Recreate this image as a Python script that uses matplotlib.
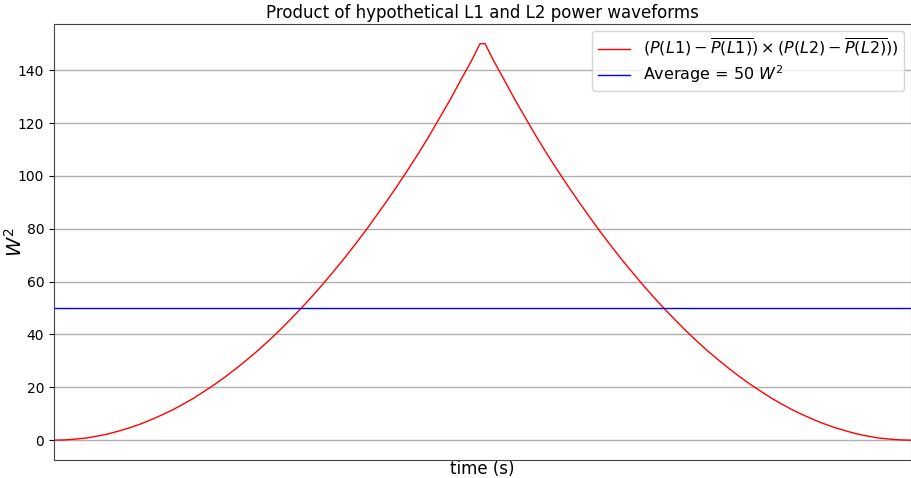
import matplotlib
matplotlib.use("Agg")
import matplotlib.pyplot as plt

# time (fraction of the window) and product values
time_s = [0.0, 0.0125, 0.025, 0.0375, 0.05, 0.0625, 0.075, 0.0875, 0.1, 0.1125,
          0.125, 0.1375, 0.15, 0.1625, 0.175, 0.1875, 0.2, 0.2125, 0.225, 0.2375,
          0.25, 0.2625, 0.275, 0.2875, 0.3, 0.3125, 0.325, 0.3375, 0.35, 0.3625,
          0.375, 0.3875, 0.4, 0.4125, 0.425, 0.4375, 0.45, 0.4625, 0.475, 0.4875,
          0.497, 0.503,
          0.5125, 0.525, 0.5375, 0.55, 0.5625, 0.575, 0.5875, 0.6, 0.6125, 0.625,
          0.6375, 0.65, 0.6625, 0.675, 0.6875, 0.7, 0.7125, 0.725, 0.7375, 0.75,
          0.7625, 0.775, 0.7875, 0.8, 0.8125, 0.825, 0.8375, 0.85, 0.8625, 0.875,
          0.8875, 0.9, 0.9125, 0.925, 0.9375, 0.95, 0.9625, 0.975, 0.9875, 1.0]
product_w2 = [0.0, 0.1, 0.4, 0.8, 1.5, 2.3, 3.4, 4.6, 6.0, 7.6,
              9.4, 11.3, 13.5, 15.8, 18.4, 21.1, 24.0, 27.1, 30.4, 33.8,
              37.5, 41.3, 45.4, 49.6, 54.0, 58.6, 63.4, 68.3, 73.5, 78.8,
              84.4, 90.1, 96.0, 102.1, 108.4, 115.0, 122.0, 129.0, 136.5, 143.8,
              150.0, 150.0,
              143.8, 136.5, 129.0, 122.0, 115.0, 108.4, 102.1, 96.0, 90.1, 84.4,
              78.8, 73.5, 68.3, 63.4, 58.6, 54.0, 49.6, 45.4, 41.3, 37.5,
              33.8, 30.4, 27.1, 24.0, 21.1, 18.4, 15.8, 13.5, 11.3, 9.4,
              7.6, 6.0, 4.6, 3.4, 2.3, 1.5, 0.8, 0.4, 0.1, 0.0]
average_w2 = 50
yticks = [0, 20, 40, 60, 80, 100, 120, 140]

fig = plt.figure(figsize=(9.12, 4.78), dpi=100)
ax = fig.add_axes([0.0592, 0.0377, 0.9398, 0.9123])

ax.plot(time_s, product_w2, color="red", lw=1,
        label=r"$(P(L1) - \overline{P(L1)}) \times (P(L2) - \overline{P(L2)}))$")
ax.axhline(average_w2, color="blue", lw=1, label=r"Average = 50 $W^2$")

ax.set_xlim(min(time_s), max(time_s))
ax.set_ylim(-7.5, 157.5)
ax.set_xticks([])
ax.set_yticks(yticks)
ax.tick_params(axis="y", labelsize=10)
ax.yaxis.grid(True, color="#b0b0b0", lw=1)
ax.set_axisbelow(True)
for s in ax.spines.values():
    s.set_color("#444444")

ax.set_title("Product of hypothetical L1 and L2 power waveforms", fontsize=12, pad=4)
ax.set_xlabel("time (s)", fontsize=12, labelpad=0)
ax.set_ylabel(r"$W^2$", fontsize=14)
ax.yaxis.set_label_coords(-0.033, 0.5)
ax.legend(loc="upper right", fontsize=11.5, handlelength=2,
          labelspacing=0.3, borderpad=0.35, borderaxespad=0.45)

fig.savefig("out.png", dpi=100)
